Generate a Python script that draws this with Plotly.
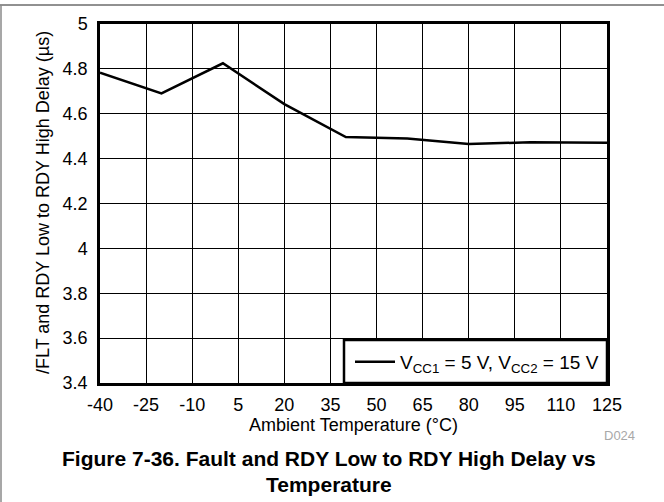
import plotly.graph_objects as go

# Fault/RDY low-to-high delay measured across ambient temperature
temperature_c = [-40, -20, 0, 20, 40, 60, 80, 100, 125]
delay_us = [4.783, 4.691, 4.825, 4.643, 4.496, 4.490, 4.465, 4.473, 4.471]

x_ticks = [-40, -25, -10, 5, 20, 35, 50, 65, 80, 95, 110, 125]
x_tick_text = ["-40", "-25", "-10", "5", "20", "35", "50", "65", "80", "95",
               "110", "125"]
y_ticks = [3.4, 3.6, 3.8, 4.0, 4.2, 4.4, 4.6, 4.8, 5.0]
y_tick_text = ["3.4", "3.6", "3.8", "4", "4.2", "4.4", "4.6", "4.8", "5"]

series_name = "V<sub>CC1</sub> = 5 V, V<sub>CC2</sub> = 15 V"
x_title = "Ambient Temperature (°C)"
y_title = "/FLT and RDY Low to RDY High Delay (µs)"
caption_1 = "<b>Figure 7-36. Fault and RDY Low to RDY High Delay vs</b>"
caption_2 = "<b>Temperature</b>"

FONT = "Liberation Sans, Arial, sans-serif"
W, H = 664, 502
L, R, T, B = 100, 57, 24, 119
PW, PH = W - L - R, H - T - B


def px(xp):
    return (xp - L) / PW


def py(yp):
    return (H - B - yp) / PH


fig = go.Figure()
fig.add_trace(go.Scatter(
    x=temperature_c, y=delay_us, mode="lines", name=series_name,
    line=dict(color="black", width=2.5),
))

axis_common = dict(
    showgrid=True, gridcolor="black", gridwidth=1,
    showline=True, linecolor="black", linewidth=2.5, mirror=True,
    zeroline=False, ticks="",
    tickfont=dict(family=FONT, size=18, color="black"),
)

fig.update_xaxes(range=[-40, 125], tickvals=x_ticks, ticktext=x_tick_text,
                 ticklabelstandoff=4, **axis_common)
fig.update_yaxes(range=[3.4, 5.0], tickvals=y_ticks, ticktext=y_tick_text,
                 ticklabelstandoff=6, **axis_common)

shapes = [
    # page frame
    dict(type="line", xref="paper", yref="paper", x0=px(0), x1=px(W),
         y0=py(5), y1=py(5), line=dict(color="#222222", width=1)),
    dict(type="line", xref="paper", yref="paper", x0=px(1), x1=px(1),
         y0=py(5), y1=py(H), line=dict(color="#8a8a8a", width=1.5)),
    # legend box
    dict(type="rect", xref="paper", yref="paper", x0=px(344), x1=1,
         y0=0, y1=py(340), fillcolor="white",
         line=dict(color="black", width=2.5), layer="above"),
]

annotations = [
    dict(text=x_title, xref="paper", yref="paper", x=px(353.5), y=py(425),
         showarrow=False, xanchor="center", yanchor="middle",
         font=dict(family=FONT, size=18, color="black")),
    dict(text=y_title, xref="paper", yref="paper", x=px(43), y=py(203),
         showarrow=False, xanchor="center", yanchor="middle", textangle=-90,
         font=dict(family=FONT, size=18, color="black")),
    dict(text="D024", xref="paper", yref="paper", x=px(619), y=py(435),
         showarrow=False, xanchor="center", yanchor="middle",
         font=dict(family=FONT, size=13, color="#a8a8a8")),
    dict(text=caption_1, xref="paper", yref="paper", x=px(328.5), y=py(458),
         showarrow=False, xanchor="center", yanchor="middle",
         font=dict(family=FONT, size=21, color="black")),
    dict(text=caption_2, xref="paper", yref="paper", x=px(328.5), y=py(484),
         showarrow=False, xanchor="center", yanchor="middle",
         font=dict(family=FONT, size=21, color="black")),
]

fig.update_layout(
    width=W, height=H,
    margin=dict(l=L, r=R, t=T, b=B, pad=0),
    paper_bgcolor="white", plot_bgcolor="white",
    showlegend=True,
    legend=dict(x=px(350), y=py(362), xanchor="left", yanchor="middle",
                itemwidth=40,
                bgcolor="rgba(0,0,0,0)", borderwidth=0,
                font=dict(family=FONT, size=19, color="black")),
    shapes=shapes, annotations=annotations,
)

fig.write_html("out.html")
